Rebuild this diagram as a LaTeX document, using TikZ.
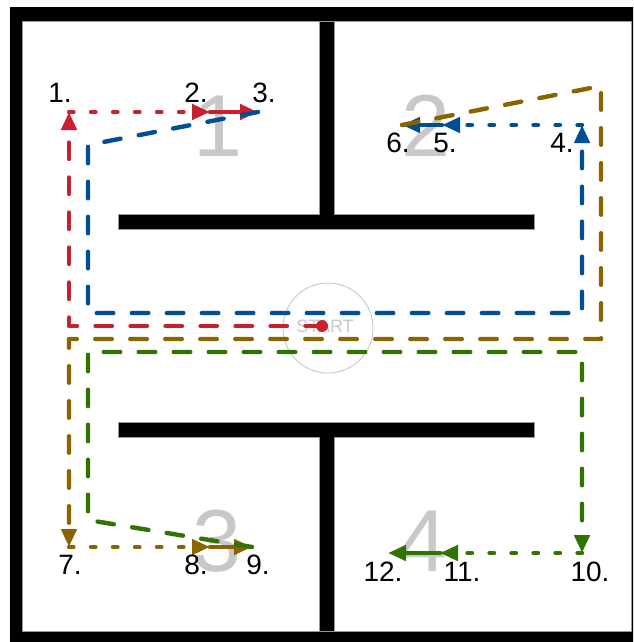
\documentclass[tikz,border=0pt]{standalone}
\usepackage{fontspec}
\setmainfont{Liberation Sans}
\usetikzlibrary{arrows.meta}
\definecolor{pred}{RGB}{200,32,44}
\definecolor{pblue}{RGB}{0,78,148}
\definecolor{pbrown}{RGB}{139,100,0}
\definecolor{pgreen}{RGB}{48,115,0}
\definecolor{roomgray}{RGB}{200,200,200}
\definecolor{edgegray}{RGB}{150,150,150}
\begin{document}
\begin{tikzpicture}[x=1pt,y=-1pt,
  wall/.style={fill=black, draw=edgegray, line width=0.7pt},
  pathline/.style={line width=4.4pt, line cap=round, line join=round},
  dashedseg/.style={pathline, dash pattern=on 16.5pt off 18.5pt},
  dottedseg/.style={pathline, dash pattern=on 4.5pt off 17.5pt},
  tip/.style={-{Triangle[length=18pt,width=15pt]}},
  lbl/.style={font=\fontsize{28}{30}\selectfont, inner sep=0pt},
  room/.style={font=\fontsize{88}{90}\selectfont, text=roomgray, inner sep=0pt},
]
\useasboundingbox (0,0) rectangle (633,642);
\clip (0,0) rectangle (633,642);
% outer frame
\fill[black] (10,7) rectangle (660,670);
\filldraw[fill=white, draw=edgegray, line width=0.7pt] (22,21) rectangle (631,631);
% inner walls
\path[wall] (118,214) -- (319,214) -- (319,21) -- (334,21) -- (334,214) -- (534,214)
  -- (534,229) -- (118,229) -- cycle;
\path[wall] (118,422) -- (534,422) -- (534,437) -- (334,437) -- (334,631) -- (319,631)
  -- (319,437) -- (118,437) -- cycle;
% room numbers
\node[room] (n1) at (218,126) {1};
\node[room] (n2) at (426,126) {2};
\node[room] (n3) at (217,541) {3};
\node[room] (n4) at (423,541) {4};
% start
\node[draw=roomgray, circle, minimum size=90pt, line width=0.9pt] (startc) at (328,328) {};
\node[font=\fontsize{18}{20}\selectfont, text=roomgray, inner sep=0pt] (starttxt) at (325,326) {START};
% waypoints
\coordinate (S) at (322,326);
\coordinate (r1) at (69,326);
\coordinate (p1) at (69,112);
\coordinate (p2) at (210,112);
\coordinate (p3) at (258,112);
\coordinate (b1) at (88,145);
\coordinate (b2) at (88,313);
\coordinate (b3) at (582,313);
\coordinate (p4) at (582,125);
\coordinate (p5) at (442,125);
\coordinate (p6) at (402,125);
\coordinate (w1) at (601,86);
\coordinate (w2) at (601,339);
\coordinate (w3) at (69,339);
\coordinate (p7) at (69,547);
\coordinate (p8) at (210,547);
\coordinate (p9) at (252,547);
\coordinate (g1) at (88,520);
\coordinate (g2) at (88,352);
\coordinate (g3) at (582,352);
\coordinate (p10) at (582,553);
\coordinate (p11) at (440,553);
\coordinate (p12) at (388,553);
% red
\draw[dashedseg, pred, tip] (S) -- (r1) -- (p1);
\draw[dottedseg, pred, tip] (p1) -- (p2);
\draw[pathline, pred, tip] (p2) -- (p3);
% blue
\draw[dashedseg, pblue, tip] (p3) -- (b1) -- (b2) -- (b3) -- (p4);
\draw[dottedseg, pblue, tip] (p4) -- (p5);
\draw[pathline, pblue, tip] (p5) -- (p6);
% brown
\draw[dashedseg, pbrown, tip] (p6) -- (w1) -- (w2) -- (w3) -- (p7);
\draw[dottedseg, pbrown, tip] (p7) -- (p8);
\draw[pathline, pbrown, tip] (p8) -- (p9);
% green
\draw[dashedseg, pgreen, tip] (p9) -- (g1) -- (g2) -- (g3) -- (p10);
\draw[dottedseg, pgreen, tip] (p10) -- (p11);
\draw[pathline, pgreen, tip] (p11) -- (p12);
% start dot
\node[circle, fill=pred, minimum size=12pt, inner sep=0pt] (startdot) at (S) {};
% labels
\node[lbl] (l1) at (60,93) {1.};
\node[lbl] (l2) at (196,93) {2.};
\node[lbl] (l3) at (264,93) {3.};
\node[lbl] (l4) at (562,143) {4.};
\node[lbl] (l5) at (445,143) {5.};
\node[lbl] (l6) at (398,143) {6.};
\node[lbl] (l7) at (70,565) {7.};
\node[lbl] (l8) at (196,565) {8.};
\node[lbl] (l9) at (258,565) {9.};
\node[lbl] (l10) at (590,572) {10.};
\node[lbl] (l11) at (462,572) {11.};
\node[lbl] (l12) at (383,572) {12.};
\end{tikzpicture}
\end{document}
